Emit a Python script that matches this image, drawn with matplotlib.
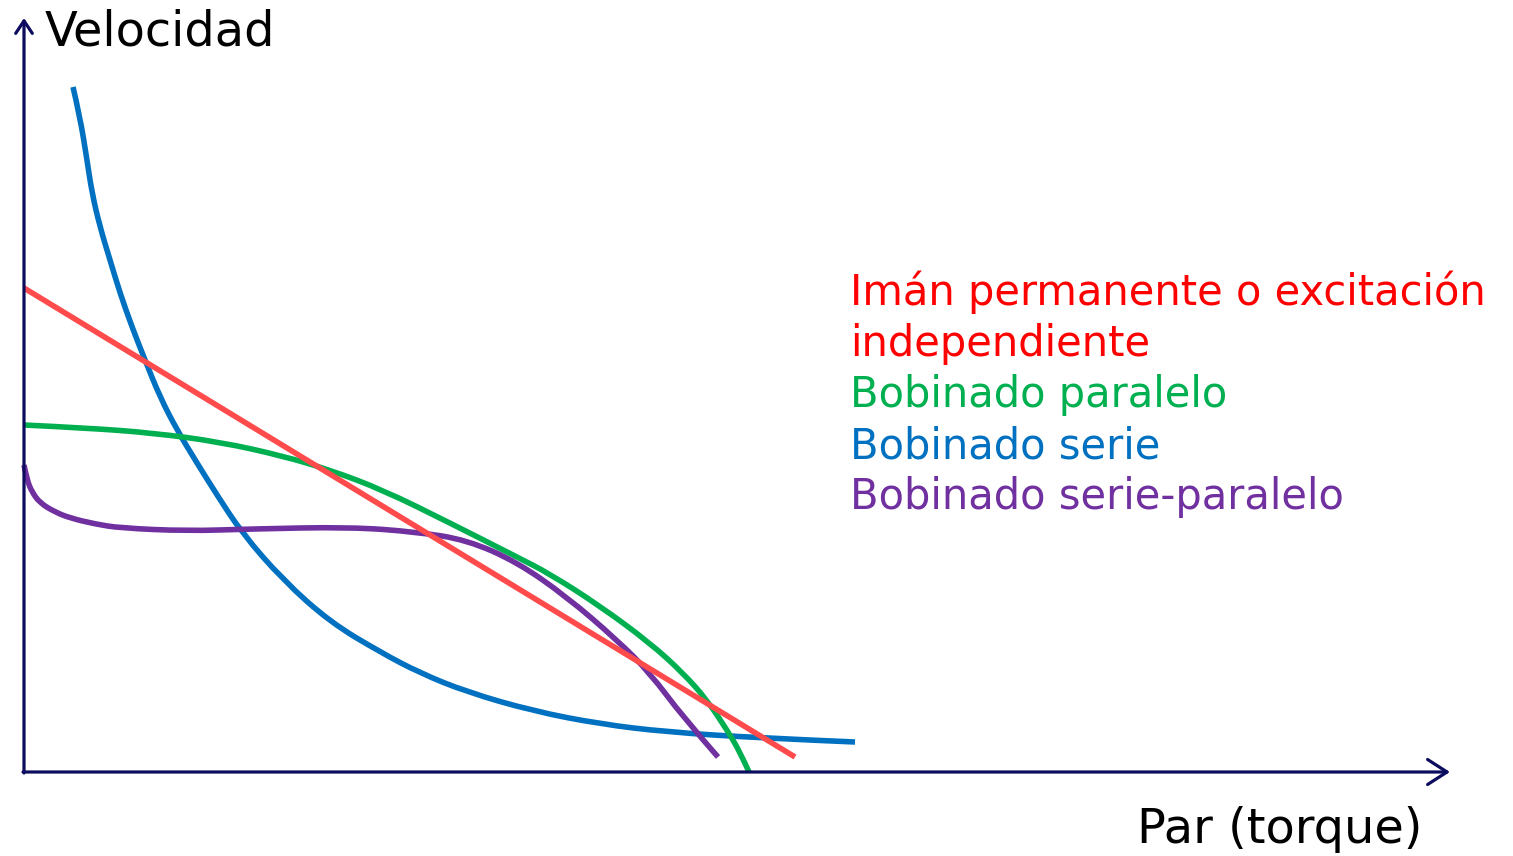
import matplotlib
matplotlib.use("Agg")
import matplotlib.pyplot as plt
from matplotlib.path import Path
from matplotlib.patches import PathPatch
import numpy as np

plt.rcParams['font.family'] = ['DejaVu Sans']

# Data (torque, speed) in drawing units: origin at the axes corner
serie_x = [49, 56, 63, 68, 76, 86, 96, 108, 121, 136, 153, 173, 193, 218, 259, 306, 356, 396, 443, 509, 576, 643, 736, 831]
serie_y = [685, 655, 612, 579, 545, 512, 479, 445, 412, 375, 342, 309, 277, 239, 192, 150, 120, 99, 80, 61, 48, 40, 34, 30]

paralelo_x = [0, 63, 129, 196, 259, 306, 359, 426, 493, 526, 576, 626, 659, 683, 703, 716, 725]
paralelo_y = [347, 344, 339, 330, 316, 302, 282, 249, 215, 198, 166, 129, 99, 72, 42, 20, 0]

indep_x = [0, 771]
indep_y = [484, 15]

serie_par_x = [0, 3, 8, 16, 31, 46, 71, 96, 163, 226, 326, 393, 443, 493, 543, 593, 626, 659, 694]
serie_par_y = [307, 292, 280, 269, 260, 254, 248, 244, 241, 243, 245, 240, 232, 210, 175, 132, 99, 55, 15]

labels = ["Imán permanente o excitación", "independiente", "Bobinado paralelo",
          "Bobinado serie", "Bobinado serie-paralelo"]
label_colors = ['#FF0000', '#FF0000', '#00B050', '#0070C0', '#7030A0']

fig = plt.figure(figsize=(15.13, 8.56), dpi=100)
ax = fig.add_axes([0, 0, 1, 1])
ax.set_xlim(-24, 1489)
ax.set_ylim(-84, 772)
ax.axis('off')


def smooth_curve(ax, xs, ys, color, lw):
    """Draw a smooth quadratic-Bezier path using the read points as control points."""
    pts = np.column_stack([xs, ys]).astype(float)
    verts = [pts[0]]
    codes = [Path.MOVETO]
    for i in range(1, len(pts) - 1):
        mid = (pts[i] + pts[i + 1]) / 2.0
        if i == len(pts) - 2:
            mid = pts[i + 1]
        verts += [pts[i], mid]
        codes += [Path.CURVE3, Path.CURVE3]
    if len(pts) == 2:
        verts.append(pts[1])
        codes.append(Path.LINETO)
    patch = PathPatch(Path(verts, codes), facecolor='none', edgecolor=color,
                      lw=lw, capstyle='butt', joinstyle='round')
    ax.add_patch(patch)


lw = 4.0
smooth_curve(ax, serie_x, serie_y, '#0070C0', lw)
smooth_curve(ax, paralelo_x, paralelo_y, '#00B050', lw)
smooth_curve(ax, serie_par_x, serie_par_y, '#7030A0', lw)
ax.plot(indep_x, indep_y, color='#FF4B4B', lw=lw, solid_capstyle='butt')

axis_col = '#0c0c5e'
ax.annotate('', xy=(1426, 0), xytext=(-1, 0),
            arrowprops=dict(arrowstyle='->,head_length=0.7,head_width=0.45',
                            color=axis_col, lw=2.3, mutation_scale=20,
                            shrinkA=0, shrinkB=0))
ax.annotate('', xy=(0, 754), xytext=(0, -1),
            arrowprops=dict(arrowstyle='->,head_length=0.45,head_width=0.3',
                            color=axis_col, lw=2.3, mutation_scale=20,
                            shrinkA=0, shrinkB=0))

ax.text(21, 727, "Velocidad", fontsize=34.5, color='black', va='baseline', ha='left')
ax.text(1113, -71, "Par (torque)", fontsize=34.5, color='black', va='baseline', ha='left')

for i, (t, c) in enumerate(zip(labels, label_colors)):
    ax.text(826, 467 - 51 * i, t, fontsize=30, color=c, va='baseline', ha='left')

fig.savefig('out.png', dpi=100)
